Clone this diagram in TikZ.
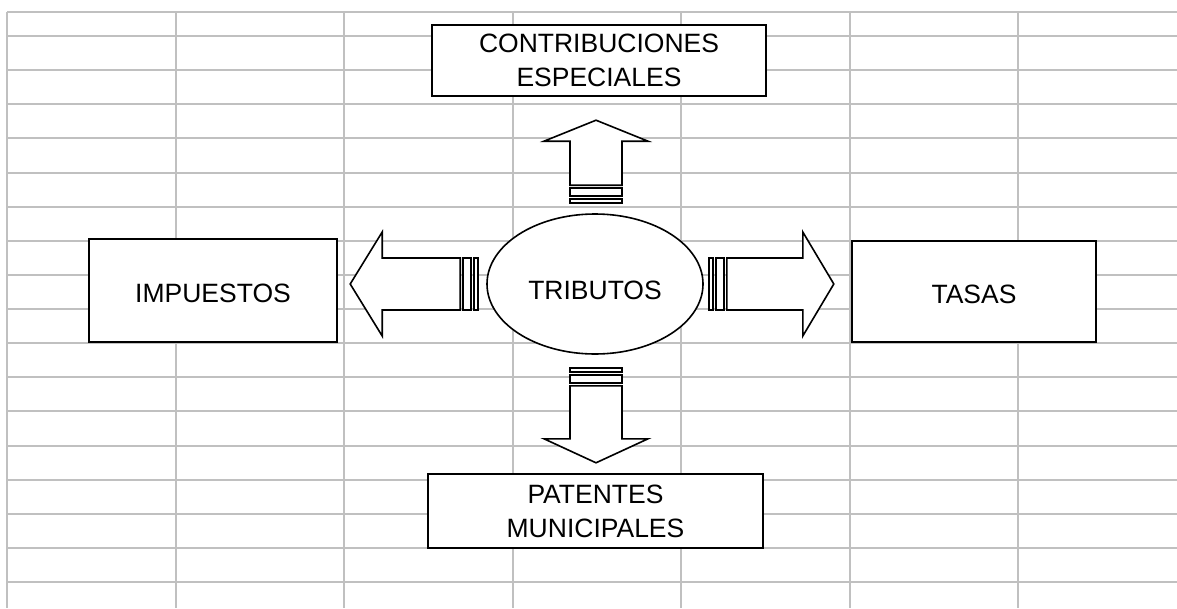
\documentclass[tikz,border=0pt]{standalone}
\usepackage{fontspec}
\setmainfont{Liberation Sans}
\usetikzlibrary{shapes.geometric}
\definecolor{cellgray}{HTML}{C0C0C0}
\tikzset{
  cell/.style={draw=cellgray, line width=2pt},
  outline/.style={draw=black, line width=1.6pt, fill=white, line join=miter},
  box/.style={
    rectangle,
    outline,
    align=center,
    inner sep=0pt,
    font=\fontsize{26.5}{34}\selectfont
  },
  pics/bigarrow/.style 2 args={code={
    \draw[outline] (0,-26) rectangle (4,26);
    \draw[outline] (7,-26) rectangle (15,26);
    \draw[outline] (18,-26) -- (#1,-26) -- (#1,-52) -- (#2,0) -- (#1,52) -- (#1,26) -- (18,26) -- cycle;
  }}
}
\def\down#1#2{\raisebox{-#1}[\height][\depth]{#2}}

\begin{document}
\begin{tikzpicture}[x=1pt, y=-1pt]
    \useasboundingbox (0,0) rectangle (1177,608);
    % spreadsheet grid
    \draw[cell] (7,12) -- (1177,12);
    \foreach \k in {0,...,16}
      \draw[cell] (7,36+34.125*\k) -- (1177,36+34.125*\k);
    \foreach \k in {0,...,6}
      \draw[cell] (7+168.5*\k,12) -- (7+168.5*\k,608);
    % boxes
    \node[draw, ellipse, outline, minimum width=216pt, minimum height=140pt, font=\fontsize{26.5}{34}\selectfont] (tributos) at (595,284) {\down{6pt}{TRIBUTOS}};
    \node[box, minimum width=334pt, minimum height=71pt] (contrib) at (599,60.5) {CONTRIBUCIONES\\ESPECIALES};
    \node[box, minimum width=248pt, minimum height=103pt] (impuestos) at (213,290.5) {\down{3pt}{IMPUESTOS}};
    \node[box, minimum width=244pt, minimum height=101pt] (tasas) at (974,291.5) {\down{3pt}{TASAS}};
    \node[box, minimum width=335pt, minimum height=74pt] (patentes) at (595.5,511) {PATENTES\\MUNICIPALES};
    % block arrows out of the ellipse
    \pic[rotate=180] at ([xshift=-8pt]tributos.west) {bigarrow={96}{128}};
    \pic at ([xshift=5pt]tributos.east) {bigarrow={94}{125}};
    \pic[rotate=90] at ([xshift=1pt,yshift=10pt]tributos.north) {bigarrow={62}{83}};
    \pic[rotate=-90] at ([xshift=1pt,yshift=-13pt]tributos.south) {bigarrow={71}{95}};
\end{tikzpicture}
\end{document}
